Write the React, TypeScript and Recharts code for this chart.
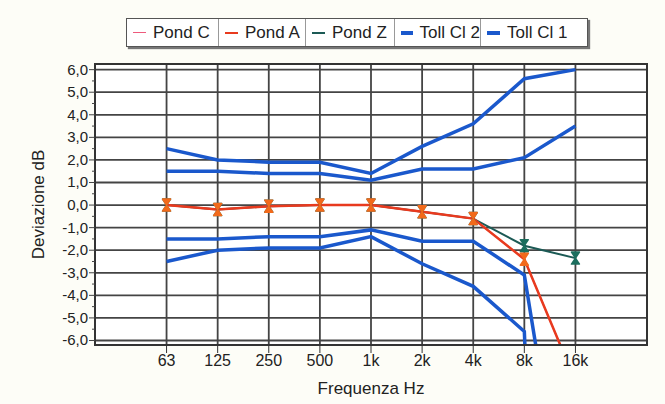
import React from "react";
import { LineChart, Line, XAxis, YAxis, CartesianGrid, ReferenceArea } from "recharts";

// octave bands (index on a log2 axis)
const freqLabels = ["63", "125", "250", "500", "1k", "2k", "4k", "8k", "16k"];

// measured deviation, dB
const pondC = [0.0, -0.2, -0.05, 0.0, 0.0, -0.3, -0.6, -2.4, -7.8];
const pondA = [0.0, -0.2, -0.05, 0.0, 0.0, -0.3, -0.6, -2.4, -7.8];
const pondZ = [0.0, -0.2, -0.05, 0.0, 0.0, -0.3, -0.6, -1.8, -2.35];

// tolerance limits (class 1 / class 2)
const toll1Up = [1.5, 1.5, 1.4, 1.4, 1.1, 1.6, 1.6, 2.1, 3.5];
const toll1Lo = [-1.5, -1.5, -1.4, -1.4, -1.1, -1.6, -1.6, -3.1, -17];
const toll2Up = [2.5, 2.0, 1.9, 1.9, 1.4, 2.6, 3.6, 5.6, 6.0];
const toll2Lo = [-2.5, -2.0, -1.9, -1.9, -1.4, -2.6, -3.6, -5.6, -60];

const yTicks = [
  -6, -5.5, -5, -4.5, -4, -3.5, -3, -2.5, -2, -1.5, -1, -0.5, 0,
  0.5, 1, 1.5, 2, 2.5, 3, 3.5, 4, 4.5, 5, 5.5, 6,
];
const yGrid = [-6, -5, -4, -3, -2, -1, 0, 1, 2, 3, 4, 5, 6];
const xTicks = [0, 1, 2, 3, 4, 5, 6, 7, 8];

const legendItems = [
  { name: "Pond C", color: "#ee5a7c", width: 1.5, cell: 91 },
  { name: "Pond A", color: "#e83a1e", width: 2, cell: 87 },
  { name: "Pond Z", color: "#1c5a55", width: 2, cell: 89 },
  { name: "Toll Cl 2", color: "#1a58cc", width: 4, cell: 86 },
  { name: "Toll Cl 1", color: "#1a58cc", width: 4, cell: 107 },
];

const data = freqLabels.map((f, i) => ({
  x: i,
  pondC: pondC[i],
  pondA: pondA[i],
  pondZ: pondZ[i],
  toll1Up: toll1Up[i],
  toll1Lo: toll1Lo[i],
  toll2Up: toll2Up[i],
  toll2Lo: toll2Lo[i],
}));

const FONT = "Liberation Sans, Arial, sans-serif";
const BLUE = "#1a58cc";

function hourglass(fill: string) {
  return (props: any) => {
    const { cx, cy, index } = props;
    if (cx == null || cy == null) return <g key={index} />;
    return (
      <path
        key={index}
        d={`M${cx - 4},${cy - 6} L${cx + 4},${cy - 6} L${cx},${cy} Z M${cx - 4},${cy + 6} L${cx + 4},${cy + 6} L${cx},${cy} Z`}
        fill={fill}
        stroke={fill}
        strokeWidth={1.5}
        strokeLinejoin="round"
      />
    );
  };
}

function YTick(props: any) {
  const { x, y, payload } = props;
  const v = payload.value as number;
  const major = Number.isInteger(v);
  const axisX = x + 8;
  return (
    <g>
      <line x1={axisX - (major ? 6 : 3)} x2={axisX} y1={y} y2={y} stroke="#444" strokeWidth={1} />
      {major && (
        <text x={axisX - 7} y={y} dy={5} textAnchor="end" fontSize={15} fill="#222" fontFamily={FONT}>
          {v.toFixed(1).replace(".", ",")}
        </text>
      )}
    </g>
  );
}

export default function App() {
  return (
    <div
      style={{
        position: "absolute",
        left: 0,
        top: 0,
        width: 665,
        height: 404,
        background: "#fdfdf7",
        fontFamily: FONT,
      }}
    >
      {/* legend box */}
      <div
        style={{
          position: "absolute",
          left: 126,
          top: 18,
          height: 27,
          display: "flex",
          border: "1px solid #555",
          background: "#fff",
          boxShadow: "2px 2px 1px #777",
        }}
      >
        {legendItems.map((it, i) => (
          <div
            key={it.name}
            style={{
              display: "flex",
              alignItems: "center",
              boxSizing: "border-box",
              padding: "0 0 0 6px",
              borderLeft: i === 0 ? "none" : "1px solid #999",
              fontSize: 17,
              color: "#222",
              width: it.cell,
              whiteSpace: "nowrap",
            }}
          >
            <span
              style={{
                display: "inline-block",
                width: 13,
                height: it.width,
                background: it.color,
                marginRight: 7,
              }}
            />
            {it.name}
          </div>
        ))}
      </div>

      <div style={{ position: "absolute", left: 0, top: 0 }}>
        <LineChart width={665} height={404} data={data} margin={{ top: 64, right: 18, bottom: 0, left: 0 }}>
          <CartesianGrid
            horizontalValues={yGrid}
            verticalValues={xTicks}
            stroke="#444"
            strokeWidth={1.8}
            fill="#fff"
          />
          <ReferenceArea x1={-1.4} x2={9.4} y1={-6.2} y2={6.25} fill="none" fillOpacity={0} stroke="#333" strokeWidth={2} />
          <XAxis
            type="number"
            dataKey="x"
            domain={[-1.4, 9.4]}
            ticks={xTicks}
            tickFormatter={(v: number) => freqLabels[v]}
            height={59}
            tickSize={8}
            tick={{ fontSize: 16, fill: "#222", fontFamily: FONT }}
            axisLine={{ stroke: "#333", strokeWidth: 2 }}
            tickLine={{ stroke: "#333" }}
            label={{ value: "Frequenza Hz", position: "insideBottom", offset: 10, fontSize: 17, fill: "#222", fontFamily: FONT }}
            allowDataOverflow
          />
          <YAxis
            type="number"
            domain={[-6.2, 6.25]}
            ticks={yTicks}
            interval={0}
            width={95}
            tickLine={false}
            tickSize={6}
            tickMargin={2}
            tick={<YTick />}
            axisLine={{ stroke: "#333", strokeWidth: 2 }}
            allowDataOverflow
            label={{
              value: "Deviazione dB",
              angle: -90,
              position: "insideLeft",
              offset: 38,
              style: { textAnchor: "middle" },
              fontSize: 17,
              fill: "#222",
              fontFamily: FONT,
            }}
          />
          <Line dataKey="toll2Up" stroke={BLUE} strokeWidth={3.5} dot={false} isAnimationActive={false} />
          <Line dataKey="toll2Lo" stroke={BLUE} strokeWidth={3.5} dot={false} isAnimationActive={false} />
          <Line dataKey="toll1Up" stroke={BLUE} strokeWidth={3.5} dot={false} isAnimationActive={false} />
          <Line dataKey="toll1Lo" stroke={BLUE} strokeWidth={3.5} dot={false} isAnimationActive={false} />
          <Line dataKey="pondZ" stroke="#1c5a55" strokeWidth={2} dot={hourglass("#1b6e5e")} isAnimationActive={false} />
          <Line dataKey="pondC" stroke="#ee5a7c" strokeWidth={1.5} dot={false} isAnimationActive={false} />
          <Line dataKey="pondA" stroke="#e83a1e" strokeWidth={2.5} dot={hourglass("#f26a1b")} isAnimationActive={false} />
        </LineChart>
      </div>
    </div>
  );
}
